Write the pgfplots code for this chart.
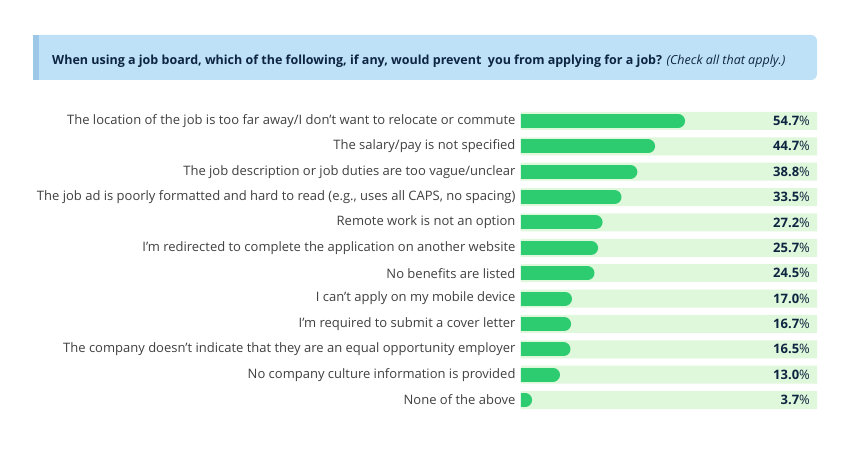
\documentclass[border=0pt]{standalone}
\usepackage{pgfplots}
\pgfplotsset{compat=1.18}
\usepackage{pgfplotstable}
\usepackage{fontspec}
\setmainfont{Open Sans}
\definecolor{barGreen}{HTML}{2ECC71}
\definecolor{bgGreen}{HTML}{DFF7DA}
\definecolor{titleBlue}{HTML}{BEE1F7}
\definecolor{stripBlue}{HTML}{9CC7E6}
\definecolor{navy}{HTML}{0D2540}
\definecolor{labGray}{HTML}{3F3F3F}
\pgfplotstableread{
y val bg
0 54.7 98.7
1 44.7 98.7
2 38.8 98.7
3 33.5 98.7
4 27.2 98.7
5 25.7 98.7
6 24.5 98.7
7 17.0 98.7
8 16.7 98.7
9 16.5 98.7
10 13.0 98.7
11 3.7 98.7
}\datatable
\begin{document}
\begin{tikzpicture}
\path[use as bounding box] (0,0) rectangle (849pt,-449pt);
\fill[titleBlue, rounded corners=6pt] (33pt,-35pt) rectangle (817pt,-80pt);
\fill[stripBlue] (33pt,-35pt) rectangle (39pt,-80pt);
\node[anchor=west, inner sep=0pt, text=navy, font=\fontsize{12.5pt}{15pt}\selectfont] at (52pt,-61pt)
  {\textbf{When using a job board, which of the following, if any, would prevent\ \ you from applying for a job?} \textit{(Check all that apply.)}};
\begin{axis}[
  at={(521pt,-108.3pt)}, anchor=north west,
  scale only axis, width=300pt, height=304.4pt,
  xmin=0, xmax=100, ymin=-0.5, ymax=11.5,
  y dir=reverse,
  axis line style={draw=none},
  xtick=\empty,
  ytick={0,...,11},
  major tick length=0pt,
  yticklabels={
    The location of the job is too far away/I don’t want to relocate or commute,
    The salary/pay is not specified,
    The job description or job duties are too vague/unclear,
    {The job ad is poorly formatted and hard to read (e.g., uses all CAPS, no spacing)},
    Remote work is not an option,
    I’m redirected to complete the application on another website,
    No benefits are listed,
    I can’t apply on my mobile device,
    I’m required to submit a cover letter,
    The company doesn’t indicate that they are an equal opportunity employer,
    No company culture information is provided,
    None of the above},
  yticklabel style={font=\fontsize{13pt}{15pt}\selectfont, text=labGray, xshift=-2pt},
  /pgf/number format/assume math mode=true,
]
\addplot[xbar, bar width=18pt, fill=bgGreen, draw=none,
  point meta=explicit,
  nodes near coords={\textbf{\pgfmathprintnumber[fixed,precision=1,fixed zerofill]{\pgfplotspointmeta}}\%},
  nodes near coords align={anchor=east},
  every node near coord/.append style={anchor=east, xshift=-7pt, text=navy, font=\fontsize{13pt}{15pt}\selectfont, inner sep=0pt},
] table[x=bg, y=y, meta=val] {\datatable};
\addplot[xcomb, draw=barGreen, line width=14pt, line cap=round, xshift=-7pt, mark=none]
  table[x=val, y=y] {\datatable};
\end{axis}
\end{tikzpicture}
\end{document}
